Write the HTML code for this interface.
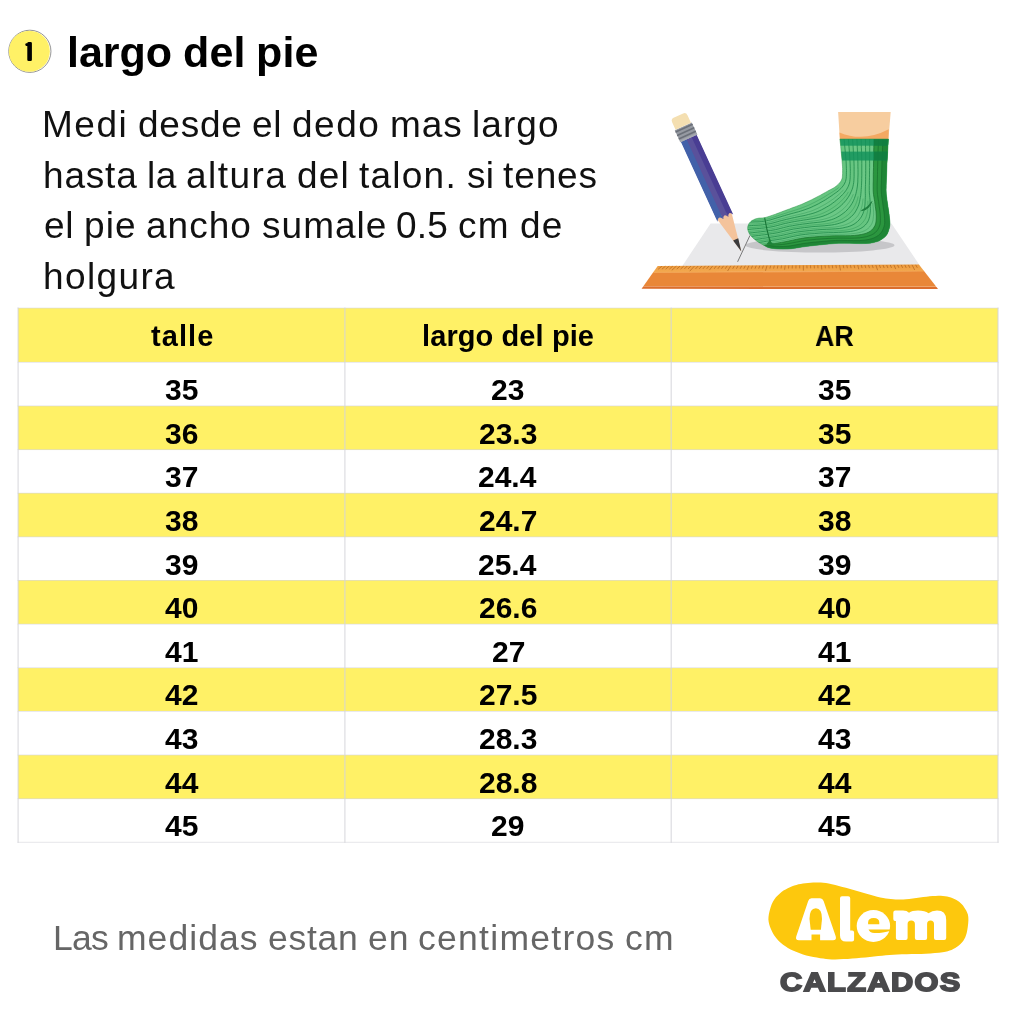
<!DOCTYPE html>
<html lang="es"><head><meta charset="utf-8"><title>largo del pie</title>
<style>
html,body{margin:0;padding:0;background:#fff;}
body{width:1024px;height:1024px;position:relative;overflow:hidden;font-family:"Liberation Sans",sans-serif;}
.t{position:absolute;white-space:nowrap;margin:0;padding:0;will-change:transform;}
.r{position:absolute;}
svg{position:absolute;overflow:visible;}
</style></head><body>

<svg width="60" height="60" viewBox="0 20 60 60" style="left:0;top:20px;">
<circle cx="29.85" cy="51.3" r="21.1" fill="#fff" stroke="#4a4a4a" stroke-width="0.65" opacity="0.9"/>
<circle cx="29.35" cy="51.3" r="20.5" fill="#fff166"/>
<path d="M27.3 43.3 Q27.3 42 28.6 42 H30.6 Q31.9 42 31.9 43.3 V59.7 Q31.9 61 30.6 61 H28.6 Q27.3 61 27.3 59.7 V45.9 H26.4 Q25.3 45.9 25.3 44.8 V44.3 Q25.3 43.5 26.1 43.2 Z" fill="#000"/>
</svg>

<div class="t" style="left:67.33px;top:25.70px;font-size:43px;line-height:52px;color:#000;font-weight:700;letter-spacing:-0.045px;">largo</div>
<div class="t" style="left:182.65px;top:25.70px;font-size:43px;line-height:52px;color:#000;font-weight:700;letter-spacing:0.185px;">del</div>
<div class="t" style="left:256.39px;top:25.70px;font-size:43px;line-height:52px;color:#000;font-weight:700;letter-spacing:0.185px;">pie</div>
<div class="t" style="left:42.27px;top:103.28px;font-size:37px;line-height:44px;color:#111;letter-spacing:1.499px;">Medi</div>
<div class="t" style="left:137.96px;top:103.28px;font-size:37px;line-height:44px;color:#111;letter-spacing:0.741px;">desde</div>
<div class="t" style="left:252.09px;top:103.28px;font-size:37px;line-height:44px;color:#111;letter-spacing:0.659px;">el</div>
<div class="t" style="left:291.82px;top:103.28px;font-size:37px;line-height:44px;color:#111;letter-spacing:1.535px;">dedo</div>
<div class="t" style="left:390.13px;top:103.28px;font-size:37px;line-height:44px;color:#111;letter-spacing:0.915px;">mas</div>
<div class="t" style="left:472.35px;top:103.28px;font-size:37px;line-height:44px;color:#111;letter-spacing:1.077px;">largo</div>
<div class="t" style="left:42.75px;top:153.68px;font-size:37px;line-height:44px;color:#111;letter-spacing:0.813px;">hasta</div>
<div class="t" style="left:147.01px;top:153.68px;font-size:37px;line-height:44px;color:#111;letter-spacing:0.569px;">la</div>
<div class="t" style="left:186.00px;top:153.68px;font-size:37px;line-height:44px;color:#111;letter-spacing:1.472px;">altura</div>
<div class="t" style="left:297.34px;top:153.68px;font-size:37px;line-height:44px;color:#111;letter-spacing:1.138px;">del</div>
<div class="t" style="left:359.30px;top:153.68px;font-size:37px;line-height:44px;color:#111;letter-spacing:1.231px;">talon.</div>
<div class="t" style="left:467.43px;top:153.68px;font-size:37px;line-height:44px;color:#111;letter-spacing:0.144px;">si</div>
<div class="t" style="left:503.43px;top:153.68px;font-size:37px;line-height:44px;color:#111;letter-spacing:0.885px;">tenes</div>
<div class="t" style="left:43.75px;top:204.38px;font-size:37px;line-height:44px;color:#111;letter-spacing:0.659px;">el</div>
<div class="t" style="left:83.80px;top:204.38px;font-size:37px;line-height:44px;color:#111;letter-spacing:1.138px;">pie</div>
<div class="t" style="left:145.53px;top:204.38px;font-size:37px;line-height:44px;color:#111;letter-spacing:1.030px;">ancho</div>
<div class="t" style="left:261.62px;top:204.38px;font-size:37px;line-height:44px;color:#111;letter-spacing:1.033px;">sumale</div>
<div class="t" style="left:396.40px;top:204.38px;font-size:37px;line-height:44px;color:#111;letter-spacing:0.241px;">0.5</div>
<div class="t" style="left:458.30px;top:204.38px;font-size:37px;line-height:44px;color:#111;letter-spacing:1.355px;">cm</div>
<div class="t" style="left:519.94px;top:204.38px;font-size:37px;line-height:44px;color:#111;letter-spacing:1.138px;">de</div>
<div class="t" style="left:42.75px;top:255.08px;font-size:37px;line-height:44px;color:#111;letter-spacing:1.378px;">holgura</div>
<div class="r" style="left:18.1px;top:308.1px;width:979.9px;height:54.19999999999999px;background:#fff166;"></div>
<div class="r" style="left:18.1px;top:405.94px;width:979.9px;height:43.64px;background:#fff166;"></div>
<div class="r" style="left:18.1px;top:493.21px;width:979.9px;height:43.64px;background:#fff166;"></div>
<div class="r" style="left:18.1px;top:580.48px;width:979.9px;height:43.64px;background:#fff166;"></div>
<div class="r" style="left:18.1px;top:667.75px;width:979.9px;height:43.64px;background:#fff166;"></div>
<div class="r" style="left:18.1px;top:755.03px;width:979.9px;height:43.64px;background:#fff166;"></div>
<svg width="1024" height="1024" viewBox="0 0 1024 1024" style="left:0;top:0;">
<rect x="17.5" y="307.60" width="981.1" height="1" fill="#d6d6dc" opacity="0.6"/>
<rect x="17.5" y="361.80" width="981.1" height="1" fill="#d6d6dc" opacity="0.6"/>
<rect x="17.5" y="405.44" width="981.1" height="1" fill="#d6d6dc" opacity="0.6"/>
<rect x="17.5" y="449.07" width="981.1" height="1" fill="#d6d6dc" opacity="0.6"/>
<rect x="17.5" y="492.71" width="981.1" height="1" fill="#d6d6dc" opacity="0.6"/>
<rect x="17.5" y="536.35" width="981.1" height="1" fill="#d6d6dc" opacity="0.6"/>
<rect x="17.5" y="579.98" width="981.1" height="1" fill="#d6d6dc" opacity="0.6"/>
<rect x="17.5" y="623.62" width="981.1" height="1" fill="#d6d6dc" opacity="0.6"/>
<rect x="17.5" y="667.25" width="981.1" height="1" fill="#d6d6dc" opacity="0.6"/>
<rect x="17.5" y="710.89" width="981.1" height="1" fill="#d6d6dc" opacity="0.6"/>
<rect x="17.5" y="754.53" width="981.1" height="1" fill="#d6d6dc" opacity="0.6"/>
<rect x="17.5" y="798.16" width="981.1" height="1" fill="#d6d6dc" opacity="0.6"/>
<rect x="17.5" y="841.80" width="981.1" height="1" fill="#d6d6dc" opacity="0.6"/>
<rect x="17.5" y="307.6" width="1.2" height="535.20" fill="#d4d4da" opacity="0.8"/>
<rect x="344.29999999999995" y="307.6" width="1.2" height="535.20" fill="#d4d4da" opacity="0.8"/>
<rect x="670.6" y="307.6" width="1.2" height="535.20" fill="#d4d4da" opacity="0.8"/>
<rect x="997.4" y="307.6" width="1.2" height="535.20" fill="#d4d4da" opacity="0.8"/>
</svg>
<div class="t" style="left:150.65px;top:318.95px;font-size:29px;line-height:35px;color:#000;font-weight:700;letter-spacing:1.076px;">talle</div>
<div class="t" style="left:421.55px;top:318.95px;font-size:29px;line-height:35px;color:#000;font-weight:700;letter-spacing:0.098px;">largo del pie</div>
<div class="t" style="left:815.21px;top:318.95px;font-size:29px;line-height:35px;color:#000;font-weight:700;transform:scaleX(0.9236);transform-origin:0 0;">AR</div>
<div class="t" style="left:164.90px;top:372.01px;font-size:30px;line-height:36px;color:#000;font-weight:700;">35</div>
<div class="t" style="left:491.39px;top:372.01px;font-size:30px;line-height:36px;color:#000;font-weight:700;">23</div>
<div class="t" style="left:818.00px;top:372.01px;font-size:30px;line-height:36px;color:#000;font-weight:700;">35</div>
<div class="t" style="left:165.02px;top:415.64px;font-size:30px;line-height:36px;color:#000;font-weight:700;">36</div>
<div class="t" style="left:478.88px;top:415.64px;font-size:30px;line-height:36px;color:#000;font-weight:700;">23.3</div>
<div class="t" style="left:818.00px;top:415.64px;font-size:30px;line-height:36px;color:#000;font-weight:700;">35</div>
<div class="t" style="left:165.13px;top:459.28px;font-size:30px;line-height:36px;color:#000;font-weight:700;">37</div>
<div class="t" style="left:478.43px;top:459.28px;font-size:30px;line-height:36px;color:#000;font-weight:700;">24.4</div>
<div class="t" style="left:818.24px;top:459.28px;font-size:30px;line-height:36px;color:#000;font-weight:700;">37</div>
<div class="t" style="left:164.94px;top:502.91px;font-size:30px;line-height:36px;color:#000;font-weight:700;">38</div>
<div class="t" style="left:479.00px;top:502.91px;font-size:30px;line-height:36px;color:#000;font-weight:700;">24.7</div>
<div class="t" style="left:818.04px;top:502.91px;font-size:30px;line-height:36px;color:#000;font-weight:700;">38</div>
<div class="t" style="left:165.03px;top:546.55px;font-size:30px;line-height:36px;color:#000;font-weight:700;">39</div>
<div class="t" style="left:478.43px;top:546.55px;font-size:30px;line-height:36px;color:#000;font-weight:700;">25.4</div>
<div class="t" style="left:818.13px;top:546.55px;font-size:30px;line-height:36px;color:#000;font-weight:700;">39</div>
<div class="t" style="left:165.20px;top:590.19px;font-size:30px;line-height:36px;color:#000;font-weight:700;">40</div>
<div class="t" style="left:478.88px;top:590.19px;font-size:30px;line-height:36px;color:#000;font-weight:700;">26.6</div>
<div class="t" style="left:818.29px;top:590.19px;font-size:30px;line-height:36px;color:#000;font-weight:700;">40</div>
<div class="t" style="left:165.00px;top:633.82px;font-size:30px;line-height:36px;color:#000;font-weight:700;">41</div>
<div class="t" style="left:491.51px;top:633.82px;font-size:30px;line-height:36px;color:#000;font-weight:700;">27</div>
<div class="t" style="left:818.10px;top:633.82px;font-size:30px;line-height:36px;color:#000;font-weight:700;">41</div>
<div class="t" style="left:165.18px;top:677.46px;font-size:30px;line-height:36px;color:#000;font-weight:700;">42</div>
<div class="t" style="left:478.76px;top:677.46px;font-size:30px;line-height:36px;color:#000;font-weight:700;">27.5</div>
<div class="t" style="left:818.28px;top:677.46px;font-size:30px;line-height:36px;color:#000;font-weight:700;">42</div>
<div class="t" style="left:165.12px;top:721.10px;font-size:30px;line-height:36px;color:#000;font-weight:700;">43</div>
<div class="t" style="left:478.88px;top:721.10px;font-size:30px;line-height:36px;color:#000;font-weight:700;">28.3</div>
<div class="t" style="left:818.22px;top:721.10px;font-size:30px;line-height:36px;color:#000;font-weight:700;">43</div>
<div class="t" style="left:164.67px;top:764.73px;font-size:30px;line-height:36px;color:#000;font-weight:700;">44</div>
<div class="t" style="left:478.80px;top:764.73px;font-size:30px;line-height:36px;color:#000;font-weight:700;">28.8</div>
<div class="t" style="left:817.77px;top:764.73px;font-size:30px;line-height:36px;color:#000;font-weight:700;">44</div>
<div class="t" style="left:165.00px;top:808.37px;font-size:30px;line-height:36px;color:#000;font-weight:700;">45</div>
<div class="t" style="left:491.40px;top:808.37px;font-size:30px;line-height:36px;color:#000;font-weight:700;">29</div>
<div class="t" style="left:818.10px;top:808.37px;font-size:30px;line-height:36px;color:#000;font-weight:700;">45</div>
<div class="t" style="left:53.29px;top:916.50px;font-size:35.5px;line-height:43px;color:#666;letter-spacing:-0.794px;">Las</div>
<div class="t" style="left:117.46px;top:916.50px;font-size:35.5px;line-height:43px;color:#666;letter-spacing:1.046px;">medidas</div>
<div class="t" style="left:267.91px;top:916.50px;font-size:35.5px;line-height:43px;color:#666;letter-spacing:0.738px;">estan</div>
<div class="t" style="left:367.63px;top:916.50px;font-size:35.5px;line-height:43px;color:#666;letter-spacing:1.021px;">en</div>
<div class="t" style="left:418.34px;top:916.50px;font-size:35.5px;line-height:43px;color:#666;letter-spacing:1.285px;">centimetros</div>
<div class="t" style="left:625.14px;top:916.50px;font-size:35.5px;line-height:43px;color:#666;letter-spacing:1.194px;">cm</div>
<svg width="1024" height="1024" viewBox="0 0 1024 1024" style="left:0;top:0;">
<polygon points="710.6,223.5 891.5,223.5 919.6,265.2 682.0,266.4" fill="#e9e9eb"/>
<ellipse cx="820" cy="245.3" rx="74.5" ry="7.3" fill="#c6c6c9"/>
<line x1="750" y1="235.4" x2="737.6" y2="261.8" stroke="#4a4a4a" stroke-width="0.7"/>
<defs><linearGradient id="rg" x1="0" y1="0" x2="0" y2="1"><stop offset="0" stop-color="#ec9a3c"/><stop offset="1" stop-color="#f3aa52"/></linearGradient></defs>
<polygon points="657.7,265.9 918.9,264.5 924.0,271.0 653.2,272.3" fill="url(#rg)"/>
<polygon points="653.2,272.3 924.0,271.0 936.3,286.8 643.2,286.6" fill="#e98738"/>
<polygon points="643.2,286.6 936.3,286.8 938.0,289.0 641.6,288.8" fill="#dc6e2d"/>
<polygon points="653.4,272.0 923.7,270.7 924.4,271.6 652.8,272.90000000000003" fill="#f3a656"/>
<path d="M661.9 266.2L658.2 269.2M665.5 266.2L661.9 269.2M669.2 266.1L665.7 269.1M672.8 266.1L669.4 269.1M676.4 266.1L671.8 270.3M680.0 266.1L676.8 269.1M683.7 266.1L680.6 269.1M687.3 266.0L684.3 269.0M690.9 266.0L688.0 269.0M694.5 266.0L689.7 271.2M698.2 266.0L695.4 269.0M701.8 266.0L699.2 269.0M705.4 265.9L702.9 268.9M709.0 265.9L706.6 268.9M712.7 265.9L709.4 270.1M716.3 265.9L714.1 268.9M719.9 265.9L717.8 268.9M723.5 265.8L721.5 268.8M727.2 265.8L725.2 268.8M730.8 265.8L727.6 271.0M734.4 265.8L732.7 268.8M738.0 265.8L736.4 268.8M741.7 265.8L740.1 268.8M745.3 265.7L743.8 268.7M748.9 265.7L747.0 269.9M752.5 265.7L751.3 268.7M756.2 265.7L755.0 268.7M759.8 265.7L758.7 268.7M763.4 265.6L762.4 268.6M767.0 265.6L765.5 270.8M770.7 265.6L769.9 268.6M774.3 265.6L773.6 268.6M777.9 265.6L777.3 268.6M781.5 265.5L781.1 268.5M785.2 265.5L784.6 269.7M788.8 265.5L788.5 268.5M792.4 265.5L792.2 268.5M796.0 265.5L795.9 268.5M799.7 265.4L799.7 268.4M803.3 265.4L803.4 270.6M806.9 265.4L807.0 268.4M810.5 265.4L810.7 268.4M814.2 265.4L814.4 268.4M817.8 265.3L818.0 268.3M821.4 265.3L821.8 269.5M825.0 265.3L825.4 268.3M828.7 265.3L829.1 268.3M832.3 265.3L832.7 268.3M835.9 265.2L836.4 268.2M839.5 265.2L840.5 270.4M843.2 265.2L843.8 268.2M846.8 265.2L847.4 268.2M850.4 265.2L851.1 268.2M854.0 265.2L854.8 268.2M857.7 265.1L858.8 269.3M861.3 265.1L862.1 268.1M864.9 265.1L865.8 268.1M868.5 265.1L869.5 268.1M872.2 265.1L873.2 268.1M875.8 265.0L877.6 270.2M879.4 265.0L880.5 268.0M883.0 265.0L884.2 268.0M886.7 265.0L887.9 268.0M890.3 265.0L891.5 268.0M893.9 264.9L895.7 269.1M897.5 264.9L898.9 267.9M901.2 264.9L902.6 267.9M904.8 264.9L906.2 267.9M908.4 264.9L909.9 267.9M912.0 264.8L914.7 270.0M915.7 264.8L917.3 267.8" stroke="#a85a18" stroke-width="0.7" fill="none" opacity="0.85"/>
<polygon points="838.1,111.9 890.7,111.9 888.4,139.5 839.9,139.5" fill="#f7cd9f"/>
<path d="M839.5 132.4 Q863.4 142.6 888.75 129.3 L888.4 139.5 L839.9 139.5 Z" fill="#f4a962"/>
<clipPath id="sk"><path d="M839.9 139.0 L840.3 142.6 L840.7 146.3 L841.0 150.1 L841.4 153.7 L841.7 157.0 L842.0 160.0 L842.2 162.6 L842.4 164.8 L842.5 166.8 L842.6 168.6 L842.6 170.3 L842.6 172.0 L842.6 173.6 L842.5 175.0 L842.4 176.4 L842.3 177.6 L842.0 178.8 L841.5 180.0 L840.9 181.2 L840.1 182.3 L839.2 183.3 L838.2 184.4 L837.1 185.4 L836.0 186.3 L834.8 187.2 L833.5 188.0 L832.1 188.8 L830.7 189.5 L829.1 190.3 L827.5 191.2 L825.8 192.2 L823.9 193.2 L822.0 194.3 L820.1 195.4 L818.0 196.4 L816.0 197.5 L813.9 198.6 L811.7 199.7 L809.4 200.8 L807.2 201.8 L805.0 202.8 L803.0 203.7 L801.2 204.5 L799.4 205.2 L797.8 205.8 L796.2 206.4 L794.6 207.0 L793.0 207.6 L791.3 208.2 L789.6 208.9 L787.9 209.5 L786.3 210.1 L784.6 210.7 L783.0 211.3 L781.4 211.9 L779.9 212.5 L778.4 213.1 L777.0 213.6 L775.5 214.2 L774.0 214.7 L772.5 215.2 L770.9 215.8 L769.4 216.3 L767.9 216.8 L766.4 217.2 L765.0 217.6 L763.7 217.8 L762.5 217.9 L761.3 218.0 L760.1 218.1 L759.1 218.1 L758.0 218.3 L757.0 218.5 L756.0 218.8 L755.0 219.1 L754.1 219.5 L753.3 219.9 L752.5 220.3 L751.7 220.8 L751.0 221.4 L750.4 222.0 L749.8 222.6 L749.2 223.3 L748.8 224.0 L748.4 224.7 L748.2 225.4 L747.9 226.2 L747.8 227.0 L747.7 227.7 L747.7 228.5 L747.8 229.3 L747.9 230.0 L748.1 230.8 L748.4 231.5 L748.7 232.3 L749.0 233.0 L749.4 233.7 L749.8 234.4 L750.3 235.0 L750.8 235.7 L751.4 236.3 L752.0 237.0 L752.7 237.7 L753.5 238.4 L754.3 239.1 L755.2 239.8 L756.1 240.5 L757.0 241.2 L757.9 241.8 L758.9 242.5 L759.8 243.0 L760.8 243.6 L761.9 244.2 L763.0 244.8 L764.1 245.4 L765.2 246.0 L766.3 246.7 L767.6 247.3 L769.1 247.8 L771.0 248.2 L773.3 248.5 L775.8 248.8 L778.6 249.0 L781.6 249.1 L784.8 249.1 L788.0 249.0 L791.3 248.7 L794.7 248.3 L798.2 247.7 L802.0 247.1 L805.9 246.5 L810.0 246.0 L814.4 245.5 L819.1 245.0 L823.9 244.5 L828.9 244.0 L834.0 243.6 L839.0 243.3 L844.2 243.2 L849.8 243.3 L855.4 243.5 L860.8 243.6 L865.8 243.5 L870.0 243.2 L873.5 242.6 L876.4 241.8 L878.9 240.9 L881.0 239.8 L882.8 238.6 L884.5 237.3 L886.0 235.8 L887.1 234.2 L888.0 232.5 L888.6 230.6 L889.2 228.8 L889.6 227.0 L889.9 225.2 L890.0 223.4 L889.9 221.6 L889.7 219.8 L889.5 217.9 L889.3 216.0 L889.1 214.1 L888.8 212.1 L888.5 210.1 L888.2 208.0 L887.9 206.0 L887.6 204.0 L887.3 202.0 L887.0 200.1 L886.8 198.1 L886.5 196.1 L886.3 194.1 L886.2 192.0 L886.1 189.8 L886.2 187.6 L886.2 185.4 L886.3 183.0 L886.4 180.6 L886.5 178.0 L886.6 175.3 L886.7 172.4 L886.8 169.4 L886.9 166.4 L887.0 163.2 L887.2 160.0 L887.4 156.7 L887.6 153.2 L887.8 149.7 L888.0 146.1 L888.2 142.5 L888.4 139.0 Z"/></clipPath>
<g clip-path="url(#sk)">
<rect x="730" y="130" width="170" height="130" fill="#6cc886"/>
<path d="M839.9 139.0 L840.3 143.3 L840.8 147.8 L841.3 152.2 L841.7 156.4 L842.0 160.0 L842.2 163.0 L842.4 165.6 L842.6 167.9 L842.6 170.0 L842.6 172.0 L842.6 173.9 L842.5 175.6 L842.3 177.1 L842.0 178.6 L841.5 180.0 L840.7 181.4 L839.8 182.7 L838.6 184.0 L837.4 185.2 L836.0 186.3 L834.5 187.3 L833.0 188.3 L831.3 189.2 L829.4 190.2 L827.5 191.2 L825.4 192.4 L823.2 193.6 L820.9 194.9 L818.4 196.2 L816.0 197.5 L813.4 198.8 L810.8 200.1 L808.1 201.4 L805.4 202.6 L803.0 203.7 L800.8 204.6 L798.8 205.4 L796.9 206.2 L795.0 206.9 L793.0 207.6 L791.0 208.4 L789.0 209.1 L786.9 209.9 L784.9 210.6 L783.0 211.3 L781.1 212.0 L779.3 212.7 L777.5 213.4 L775.7 214.1 L774.0 214.7 L772.3 215.3 L770.7 215.9 L769.2 216.5 L767.6 217.0 L766.0 217.4 L764.4 217.7 L762.9 218.0 L761.3 218.2 L759.7 218.4 L758.0 218.5 L756.1 218.6 L754.1 218.6 L752.1 218.5 L750.0 218.5 L748.0 218.5 L746.0 218.6 L744.0 218.7 L742.0 218.8 L740.0 218.9 L738.0 219.0 L738.2 223.0 L740.3 222.8 L742.3 222.6 L744.4 222.4 L746.4 222.3 L748.5 222.1 L750.6 222.0 L752.8 222.0 L755.0 221.9 L757.2 221.9 L759.2 221.8 L761.2 221.6 L763.0 221.4 L764.8 221.1 L766.6 220.8 L768.4 220.4 L770.2 220.0 L772.1 219.4 L774.0 218.8 L775.9 218.2 L777.9 217.6 L780.0 217.0 L782.1 216.3 L784.3 215.7 L786.5 215.0 L788.8 214.4 L791.1 213.7 L793.6 213.1 L796.0 212.4 L798.4 211.8 L800.7 211.1 L802.9 210.4 L804.9 209.7 L806.9 209.0 L809.0 208.2 L811.2 207.3 L813.5 206.2 L816.0 205.0 L818.6 203.7 L821.0 202.3 L823.4 201.0 L825.6 199.7 L827.7 198.3 L829.8 196.9 L831.8 195.6 L833.6 194.3 L835.3 193.1 L836.9 192.0 L838.3 190.9 L839.6 189.7 L840.9 188.5 L842.0 187.2 L843.1 185.9 L844.0 184.5 L844.8 183.0 L845.5 181.5 L845.9 179.9 L846.2 178.3 L846.3 176.6 L846.4 174.8 L846.4 172.8 L846.5 170.6 L846.4 168.3 L846.3 165.9 L846.2 163.1 L846.0 160.0 L845.7 156.3 L845.3 152.2 L844.9 147.8 L844.5 143.3 L844.1 139.0 Z" fill="#4fb56c" opacity="0.18"/>
<path d="M848.4 139.0 L848.7 143.3 L849.1 147.8 L849.4 152.1 L849.7 156.3 L849.9 160.0 L850.1 163.2 L850.2 166.1 L850.3 168.7 L850.3 171.2 L850.3 173.5 L850.2 175.7 L850.2 177.7 L850.0 179.5 L849.8 181.3 L849.5 183.0 L848.9 184.7 L848.3 186.3 L847.5 187.8 L846.7 189.3 L845.8 190.7 L844.7 192.1 L843.6 193.5 L842.4 194.7 L841.1 196.1 L839.7 197.4 L838.1 198.8 L836.4 200.2 L834.6 201.7 L832.7 203.1 L830.8 204.5 L828.6 205.9 L826.3 207.2 L824.0 208.5 L821.6 209.8 L819.4 210.8 L817.2 211.8 L815.1 212.6 L813.0 213.3 L810.8 213.9 L808.4 214.5 L805.8 215.2 L803.0 215.8 L800.2 216.3 L797.3 216.9 L794.6 217.5 L791.9 218.1 L789.3 218.7 L786.7 219.3 L784.2 219.9 L781.8 220.5 L779.4 221.1 L777.2 221.8 L775.0 222.4 L772.9 223.0 L770.8 223.5 L768.7 223.9 L766.7 224.2 L764.7 224.5 L762.6 224.8 L760.5 225.0 L758.3 225.2 L755.9 225.3 L753.6 225.4 L751.3 225.6 L749.0 225.8 L746.8 226.0 L744.7 226.2 L742.7 226.5 L740.6 226.7 L738.5 227.0 L738.8 231.0 L740.9 230.7 L743.0 230.3 L745.1 230.0 L747.3 229.7 L749.5 229.4 L751.9 229.1 L754.3 228.9 L756.8 228.7 L759.3 228.5 L761.8 228.2 L764.1 228.0 L766.3 227.7 L768.5 227.4 L770.8 227.0 L773.1 226.6 L775.5 226.0 L777.9 225.4 L780.4 224.7 L783.0 224.0 L785.6 223.4 L788.4 222.8 L791.3 222.2 L794.3 221.6 L797.3 221.1 L800.4 220.6 L803.5 220.1 L806.8 219.6 L810.1 219.1 L813.2 218.6 L816.1 218.0 L818.7 217.4 L821.0 216.8 L823.2 216.1 L825.4 215.3 L827.5 214.4 L829.7 213.3 L832.0 212.1 L834.1 210.8 L836.2 209.4 L838.1 208.0 L839.9 206.6 L841.5 205.1 L843.1 203.6 L844.5 202.0 L845.8 200.5 L847.0 199.0 L848.0 197.5 L849.0 196.0 L849.8 194.5 L850.6 192.9 L851.3 191.3 L852.0 189.7 L852.6 188.0 L853.0 186.3 L853.4 184.5 L853.7 182.6 L853.9 180.7 L854.0 178.7 L854.1 176.6 L854.1 174.2 L854.1 171.8 L854.1 169.2 L854.1 166.4 L854.0 163.3 L853.9 160.0 L853.7 156.2 L853.4 152.1 L853.2 147.7 L852.9 143.3 L852.6 139.0 Z" fill="#4fb56c" opacity="0.18"/>
<path d="M856.9 139.0 L857.1 143.3 L857.3 147.7 L857.5 152.0 L857.7 156.2 L857.8 160.0 L857.9 163.4 L857.9 166.6 L858.0 169.6 L858.0 172.4 L858.0 175.0 L857.9 177.5 L857.8 179.8 L857.8 181.9 L857.6 184.0 L857.4 186.0 L857.1 188.0 L856.8 189.8 L856.4 191.6 L856.0 193.4 L855.5 195.2 L854.9 196.9 L854.3 198.6 L853.6 200.3 L852.8 202.0 L851.9 203.6 L850.9 205.2 L849.7 206.9 L848.4 208.5 L847.0 210.0 L845.5 211.5 L843.8 212.9 L841.9 214.3 L839.9 215.7 L837.8 216.9 L835.7 218.0 L833.6 218.9 L831.4 219.7 L829.1 220.3 L826.6 220.9 L823.9 221.5 L820.7 222.0 L817.1 222.4 L813.4 222.8 L809.7 223.2 L806.1 223.7 L802.7 224.1 L799.3 224.6 L795.9 225.1 L792.6 225.7 L789.5 226.2 L786.5 226.9 L783.6 227.6 L780.9 228.3 L778.2 229.0 L775.5 229.6 L772.9 230.1 L770.4 230.5 L768.0 230.8 L765.5 231.2 L763.0 231.5 L760.4 231.8 L757.7 232.1 L755.1 232.4 L752.5 232.7 L750.0 233.0 L747.7 233.4 L745.5 233.8 L743.3 234.2 L741.2 234.6 L739.0 235.0 L739.2 239.0 L741.5 238.5 L743.6 238.0 L745.8 237.5 L748.1 237.1 L750.5 236.6 L753.1 236.2 L755.8 235.8 L758.6 235.5 L761.5 235.1 L764.2 234.8 L767.0 234.4 L769.6 234.0 L772.3 233.6 L775.0 233.2 L777.9 232.7 L780.8 232.0 L783.8 231.3 L786.9 230.5 L790.0 229.8 L793.4 229.1 L796.9 228.6 L800.5 228.1 L804.3 227.6 L808.1 227.2 L811.9 226.7 L815.9 226.4 L820.1 226.1 L824.2 225.8 L828.1 225.4 L831.6 225.0 L834.5 224.5 L837.2 223.9 L839.5 223.2 L841.7 222.5 L843.9 221.6 L845.9 220.5 L847.9 219.3 L849.7 217.9 L851.4 216.5 L852.9 215.0 L854.2 213.5 L855.3 211.9 L856.3 210.2 L857.2 208.5 L858.0 206.7 L858.7 204.9 L859.2 203.1 L859.7 201.2 L860.0 199.3 L860.4 197.4 L860.7 195.5 L860.9 193.5 L861.1 191.6 L861.2 189.6 L861.4 187.5 L861.5 185.3 L861.6 183.1 L861.7 180.8 L861.7 178.4 L861.8 175.8 L861.8 172.9 L861.8 170.0 L861.8 166.9 L861.8 163.6 L861.8 160.0 L861.7 156.1 L861.6 152.0 L861.4 147.7 L861.3 143.3 L861.1 139.0 Z" fill="#4fb56c" opacity="0.18"/>
<path d="M865.4 139.0 L865.5 143.3 L865.5 147.6 L865.6 151.9 L865.7 156.1 L865.7 160.0 L865.7 163.7 L865.7 167.1 L865.7 170.4 L865.7 173.5 L865.6 176.5 L865.6 179.3 L865.5 181.9 L865.5 184.3 L865.4 186.7 L865.3 189.0 L865.3 191.2 L865.3 193.4 L865.4 195.5 L865.3 197.5 L865.2 199.6 L865.1 201.7 L865.0 203.8 L864.8 205.8 L864.5 207.9 L864.1 209.8 L863.6 211.7 L863.0 213.5 L862.2 215.2 L861.3 216.9 L860.2 218.5 L859.0 220.0 L857.5 221.5 L855.9 222.8 L854.1 224.1 L852.0 225.2 L849.9 226.1 L847.7 226.8 L845.2 227.4 L842.5 228.0 L839.3 228.5 L835.5 228.8 L831.2 229.1 L826.7 229.3 L822.1 229.5 L817.7 229.8 L813.5 230.2 L809.3 230.6 L805.1 231.0 L801.1 231.5 L797.2 232.0 L793.6 232.7 L790.1 233.5 L786.7 234.3 L783.5 235.0 L780.2 235.7 L777.2 236.2 L774.2 236.7 L771.3 237.1 L768.4 237.6 L765.5 238.0 L762.5 238.4 L759.5 238.9 L756.6 239.3 L753.7 239.8 L751.0 240.2 L748.5 240.8 L746.2 241.3 L744.0 241.9 L741.8 242.4 L739.5 243.0 L739.8 247.0 L742.0 246.4 L744.3 245.7 L746.5 245.1 L748.9 244.5 L751.5 243.9 L754.3 243.3 L757.3 242.8 L760.4 242.3 L763.6 241.8 L766.8 241.2 L769.8 240.8 L772.9 240.3 L776.1 239.8 L779.3 239.3 L782.6 238.8 L786.1 238.0 L789.6 237.2 L793.3 236.4 L797.1 235.6 L801.1 234.9 L805.3 234.4 L809.7 233.9 L814.3 233.6 L818.9 233.2 L823.5 232.9 L828.3 232.7 L833.3 232.6 L838.3 232.4 L842.9 232.2 L847.0 231.9 L850.4 231.5 L853.3 231.0 L855.8 230.4 L858.1 229.6 L860.2 228.7 L862.2 227.6 L863.8 226.4 L865.3 225.0 L866.5 223.6 L867.6 222.0 L868.5 220.4 L869.1 218.6 L869.6 216.8 L869.9 214.9 L870.2 212.9 L870.4 210.8 L870.4 208.6 L870.3 206.3 L870.2 204.1 L870.1 201.8 L870.0 199.6 L869.8 197.4 L869.6 195.2 L869.4 192.9 L869.3 190.5 L869.3 188.0 L869.3 185.5 L869.4 182.9 L869.4 180.2 L869.5 177.2 L869.5 174.1 L869.5 170.8 L869.6 167.4 L869.6 163.8 L869.6 160.0 L869.7 156.0 L869.7 151.9 L869.7 147.6 L869.7 143.3 L869.6 139.0 Z" fill="#4fb56c" opacity="0.18"/>
<path d="M873.9 139.0 L873.8 143.2 L873.8 147.5 L873.7 151.8 L873.7 156.0 L873.6 160.0 L873.5 163.9 L873.5 167.6 L873.4 171.2 L873.3 174.7 L873.3 178.0 L873.3 181.1 L873.2 184.0 L873.2 186.7 L873.2 189.4 L873.3 192.0 L873.5 194.5 L873.9 196.9 L874.3 199.3 L874.7 201.6 L875.0 204.0 L875.3 206.4 L875.7 208.9 L876.0 211.4 L876.2 213.8 L876.3 216.0 L876.3 218.1 L876.2 220.1 L876.0 222.0 L875.6 223.8 L875.0 225.5 L874.1 227.1 L873.1 228.6 L871.8 230.0 L870.3 231.2 L868.4 232.3 L866.3 233.2 L864.0 233.9 L861.4 234.5 L858.3 235.0 L854.7 235.4 L850.4 235.7 L845.3 235.8 L839.9 235.8 L834.5 235.8 L829.3 236.0 L824.3 236.2 L819.3 236.5 L814.4 236.9 L809.6 237.3 L805.0 237.8 L800.7 238.5 L796.5 239.3 L792.6 240.2 L788.7 241.0 L785.0 241.8 L781.4 242.4 L777.9 243.0 L774.6 243.5 L771.3 244.0 L768.0 244.5 L764.7 245.1 L761.3 245.7 L758.1 246.2 L754.9 246.9 L752.0 247.5 L749.3 248.2 L746.9 248.9 L744.6 249.6 L742.3 250.3 L740.0 251.0 L740.0 254.9 L743.2 253.9 L746.4 252.8 L749.5 251.7 L752.7 250.8 L755.9 250.1 L759.1 249.6 L762.2 249.4 L765.4 249.2 L768.6 249.2 L771.9 249.3 L775.1 249.6 L778.4 250.1 L781.6 250.6 L785.1 251.0 L788.9 251.2 L792.9 250.9 L797.2 250.4 L801.6 249.8 L806.4 249.1 L811.5 248.5 L817.0 247.8 L823.0 247.1 L829.2 246.5 L835.6 245.9 L841.9 245.5 L848.6 245.4 L855.7 245.6 L862.7 245.9 L869.2 245.9 L874.6 245.5 L878.8 244.7 L882.3 243.6 L885.0 242.2 L887.3 240.6 L889.3 238.8 L891.0 236.8 L892.2 234.6 L893.0 232.2 L893.6 229.8 L894.0 227.5 L894.2 225.2 L894.1 222.9 L893.8 220.6 L893.5 218.3 L893.2 216.0 L892.9 213.6 L892.5 211.2 L892.1 208.8 L891.7 206.4 L891.4 204.0 L891.1 201.6 L890.7 199.3 L890.4 196.9 L890.2 194.5 L890.1 192.0 L890.0 189.4 L890.1 186.7 L890.2 184.0 L890.3 181.1 L890.5 178.0 L890.6 174.7 L890.7 171.2 L890.9 167.6 L891.1 163.9 L891.3 160.0 L891.5 156.0 L891.8 151.8 L892.1 147.5 L892.4 143.2 L892.8 139.0 Z" fill="#2b963f"/>
<path d="M882.9 139.0 L882.7 143.2 L882.5 147.5 L882.4 151.8 L882.2 156.0 L882.0 160.0 L881.9 163.9 L881.8 167.6 L881.7 171.2 L881.6 174.7 L881.5 178.0 L881.4 181.1 L881.3 184.0 L881.2 186.7 L881.2 189.4 L881.3 192.0 L881.5 194.5 L881.8 196.9 L882.1 199.3 L882.5 201.6 L882.8 204.0 L883.1 206.4 L883.5 208.9 L883.9 211.3 L884.2 213.7 L884.4 216.0 L884.5 218.2 L884.6 220.4 L884.7 222.4 L884.5 224.5 L884.1 226.4 L883.4 228.4 L882.6 230.3 L881.5 232.2 L880.1 233.9 L878.4 235.4 L876.3 236.7 L874.0 237.9 L871.3 238.8 L868.1 239.6 L864.2 240.2 L859.3 240.6 L853.6 240.6 L847.4 240.5 L841.2 240.4 L835.3 240.5 L829.7 240.8 L824.0 241.3 L818.5 241.8 L813.1 242.3 L808.1 242.9 L803.4 243.5 L799.0 244.3 L794.8 245.1 L790.7 245.8 L786.9 246.3 L783.2 246.5 L779.7 246.6 L776.4 246.6 L773.1 246.6 L769.9 246.8 L766.6 247.1 L763.3 247.4 L760.1 247.7 L756.9 248.2 L753.9 248.7 L751.0 249.4 L748.2 250.2 L745.4 251.1 L742.7 252.0 L740.0 252.9 L740.0 254.9 L743.2 253.9 L746.4 252.8 L749.5 251.7 L752.7 250.8 L755.9 250.1 L759.1 249.6 L762.2 249.4 L765.4 249.2 L768.6 249.2 L771.9 249.3 L775.1 249.6 L778.4 250.1 L781.6 250.6 L785.1 251.0 L788.9 251.2 L792.9 250.9 L797.2 250.4 L801.6 249.8 L806.4 249.1 L811.5 248.5 L817.0 247.8 L823.0 247.1 L829.2 246.5 L835.6 245.9 L841.9 245.5 L848.6 245.4 L855.7 245.6 L862.7 245.9 L869.2 245.9 L874.6 245.5 L878.8 244.7 L882.3 243.6 L885.0 242.2 L887.3 240.6 L889.3 238.8 L891.0 236.8 L892.2 234.6 L893.0 232.2 L893.6 229.8 L894.0 227.5 L894.2 225.2 L894.1 222.9 L893.8 220.6 L893.5 218.3 L893.2 216.0 L892.9 213.6 L892.5 211.2 L892.1 208.8 L891.7 206.4 L891.4 204.0 L891.1 201.6 L890.7 199.3 L890.4 196.9 L890.2 194.5 L890.1 192.0 L890.0 189.4 L890.1 186.7 L890.2 184.0 L890.3 181.1 L890.5 178.0 L890.6 174.7 L890.7 171.2 L890.9 167.6 L891.1 163.9 L891.3 160.0 L891.5 156.0 L891.8 151.8 L892.1 147.5 L892.4 143.2 L892.8 139.0 Z" fill="#1f8636"/>
<path d="M844.1 139.0 L844.5 143.3 L844.9 147.8 L845.3 152.2 L845.7 156.3 L846.0 160.0 L846.2 163.1 L846.3 165.9 L846.4 168.3 L846.5 170.6 L846.4 172.8 L846.4 174.8 L846.3 176.6 L846.2 178.3 L845.9 179.9 L845.5 181.5 L844.8 183.0 L844.0 184.5 L843.1 185.9 L842.0 187.2 L840.9 188.5 L839.6 189.7 L838.3 190.9 L836.9 192.0 L835.3 193.1 L833.6 194.3 L831.8 195.6 L829.8 196.9 L827.7 198.3 L825.6 199.7 L823.4 201.0 L821.0 202.3 L818.6 203.7 L816.0 205.0 L813.5 206.2 L811.2 207.3 L809.0 208.2 L806.9 209.0 L804.9 209.7 L802.9 210.4 L800.7 211.1 L798.4 211.8 L796.0 212.4 L793.6 213.1 L791.1 213.7 L788.8 214.4 L786.5 215.0 L784.3 215.7 L782.1 216.3 L780.0 217.0 L777.9 217.6 L775.9 218.2 L774.0 218.8 L772.1 219.4 L770.2 220.0 L768.4 220.4 L766.6 220.8 L764.8 221.1 L763.0 221.4 L761.2 221.6 L759.2 221.8 L757.2 221.9 L755.0 221.9 L752.8 222.0 L750.6 222.0 L748.5 222.1 L746.4 222.3 L744.4 222.4 L742.3 222.6 L740.3 222.8 L738.2 223.0" fill="none" stroke="#1f894a" stroke-width="0.85" opacity="0.95"/>
<path d="M848.4 139.0 L848.7 143.3 L849.1 147.8 L849.4 152.1 L849.7 156.3 L849.9 160.0 L850.1 163.2 L850.2 166.1 L850.3 168.7 L850.3 171.2 L850.3 173.5 L850.2 175.7 L850.2 177.7 L850.0 179.5 L849.8 181.3 L849.5 183.0 L848.9 184.7 L848.3 186.3 L847.5 187.8 L846.7 189.3 L845.8 190.7 L844.7 192.1 L843.6 193.5 L842.4 194.7 L841.1 196.1 L839.7 197.4 L838.1 198.8 L836.4 200.2 L834.6 201.7 L832.7 203.1 L830.8 204.5 L828.6 205.9 L826.3 207.2 L824.0 208.5 L821.6 209.8 L819.4 210.8 L817.2 211.8 L815.1 212.6 L813.0 213.3 L810.8 213.9 L808.4 214.5 L805.8 215.2 L803.0 215.8 L800.2 216.3 L797.3 216.9 L794.6 217.5 L791.9 218.1 L789.3 218.7 L786.7 219.3 L784.2 219.9 L781.8 220.5 L779.4 221.1 L777.2 221.8 L775.0 222.4 L772.9 223.0 L770.8 223.5 L768.7 223.9 L766.7 224.2 L764.7 224.5 L762.6 224.8 L760.5 225.0 L758.3 225.2 L755.9 225.3 L753.6 225.4 L751.3 225.6 L749.0 225.8 L746.8 226.0 L744.7 226.2 L742.7 226.5 L740.6 226.7 L738.5 227.0" fill="none" stroke="#1f894a" stroke-width="0.85" opacity="0.95"/>
<path d="M852.6 139.0 L852.9 143.3 L853.2 147.7 L853.4 152.1 L853.7 156.2 L853.9 160.0 L854.0 163.3 L854.1 166.4 L854.1 169.2 L854.1 171.8 L854.1 174.2 L854.1 176.6 L854.0 178.7 L853.9 180.7 L853.7 182.6 L853.4 184.5 L853.0 186.3 L852.6 188.0 L852.0 189.7 L851.3 191.3 L850.6 192.9 L849.8 194.5 L849.0 196.0 L848.0 197.5 L847.0 199.0 L845.8 200.5 L844.5 202.0 L843.1 203.6 L841.5 205.1 L839.9 206.6 L838.1 208.0 L836.2 209.4 L834.1 210.8 L832.0 212.1 L829.7 213.3 L827.5 214.4 L825.4 215.3 L823.2 216.1 L821.0 216.8 L818.7 217.4 L816.1 218.0 L813.2 218.6 L810.1 219.1 L806.8 219.6 L803.5 220.1 L800.4 220.6 L797.3 221.1 L794.3 221.6 L791.3 222.2 L788.4 222.8 L785.6 223.4 L783.0 224.0 L780.4 224.7 L777.9 225.4 L775.5 226.0 L773.1 226.6 L770.8 227.0 L768.5 227.4 L766.3 227.7 L764.1 228.0 L761.8 228.2 L759.3 228.5 L756.8 228.7 L754.3 228.9 L751.9 229.1 L749.5 229.4 L747.3 229.7 L745.1 230.0 L743.0 230.3 L740.9 230.7 L738.8 231.0" fill="none" stroke="#1f894a" stroke-width="0.85" opacity="0.95"/>
<path d="M856.9 139.0 L857.1 143.3 L857.3 147.7 L857.5 152.0 L857.7 156.2 L857.8 160.0 L857.9 163.4 L857.9 166.6 L858.0 169.6 L858.0 172.4 L858.0 175.0 L857.9 177.5 L857.8 179.8 L857.8 181.9 L857.6 184.0 L857.4 186.0 L857.1 188.0 L856.8 189.8 L856.4 191.6 L856.0 193.4 L855.5 195.2 L854.9 196.9 L854.3 198.6 L853.6 200.3 L852.8 202.0 L851.9 203.6 L850.9 205.2 L849.7 206.9 L848.4 208.5 L847.0 210.0 L845.5 211.5 L843.8 212.9 L841.9 214.3 L839.9 215.7 L837.8 216.9 L835.7 218.0 L833.6 218.9 L831.4 219.7 L829.1 220.3 L826.6 220.9 L823.9 221.5 L820.7 222.0 L817.1 222.4 L813.4 222.8 L809.7 223.2 L806.1 223.7 L802.7 224.1 L799.3 224.6 L795.9 225.1 L792.6 225.7 L789.5 226.2 L786.5 226.9 L783.6 227.6 L780.9 228.3 L778.2 229.0 L775.5 229.6 L772.9 230.1 L770.4 230.5 L768.0 230.8 L765.5 231.2 L763.0 231.5 L760.4 231.8 L757.7 232.1 L755.1 232.4 L752.5 232.7 L750.0 233.0 L747.7 233.4 L745.5 233.8 L743.3 234.2 L741.2 234.6 L739.0 235.0" fill="none" stroke="#1f894a" stroke-width="0.85" opacity="0.95"/>
<path d="M861.1 139.0 L861.3 143.3 L861.4 147.7 L861.6 152.0 L861.7 156.1 L861.8 160.0 L861.8 163.6 L861.8 166.9 L861.8 170.0 L861.8 172.9 L861.8 175.8 L861.7 178.4 L861.7 180.8 L861.6 183.1 L861.5 185.3 L861.4 187.5 L861.2 189.6 L861.1 191.6 L860.9 193.5 L860.7 195.5 L860.4 197.4 L860.0 199.3 L859.7 201.2 L859.2 203.1 L858.7 204.9 L858.0 206.7 L857.2 208.5 L856.3 210.2 L855.3 211.9 L854.2 213.5 L852.9 215.0 L851.4 216.5 L849.7 217.9 L847.9 219.3 L845.9 220.5 L843.9 221.6 L841.7 222.5 L839.5 223.2 L837.2 223.9 L834.5 224.5 L831.6 225.0 L828.1 225.4 L824.2 225.8 L820.1 226.1 L815.9 226.4 L811.9 226.7 L808.1 227.2 L804.3 227.6 L800.5 228.1 L796.9 228.6 L793.4 229.1 L790.0 229.8 L786.9 230.5 L783.8 231.3 L780.8 232.0 L777.9 232.7 L775.0 233.2 L772.3 233.6 L769.6 234.0 L767.0 234.4 L764.2 234.8 L761.5 235.1 L758.6 235.5 L755.8 235.8 L753.1 236.2 L750.5 236.6 L748.1 237.1 L745.8 237.5 L743.6 238.0 L741.5 238.5 L739.2 239.0" fill="none" stroke="#1f894a" stroke-width="0.85" opacity="0.95"/>
<path d="M865.4 139.0 L865.5 143.3 L865.5 147.6 L865.6 151.9 L865.7 156.1 L865.7 160.0 L865.7 163.7 L865.7 167.1 L865.7 170.4 L865.7 173.5 L865.6 176.5 L865.6 179.3 L865.5 181.9 L865.5 184.3 L865.4 186.7 L865.3 189.0 L865.3 191.2 L865.3 193.4 L865.4 195.5 L865.3 197.5 L865.2 199.6 L865.1 201.7 L865.0 203.8 L864.8 205.8 L864.5 207.9 L864.1 209.8 L863.6 211.7 L863.0 213.5 L862.2 215.2 L861.3 216.9 L860.2 218.5 L859.0 220.0 L857.5 221.5 L855.9 222.8 L854.1 224.1 L852.0 225.2 L849.9 226.1 L847.7 226.8 L845.2 227.4 L842.5 228.0 L839.3 228.5 L835.5 228.8 L831.2 229.1 L826.7 229.3 L822.1 229.5 L817.7 229.8 L813.5 230.2 L809.3 230.6 L805.1 231.0 L801.1 231.5 L797.2 232.0 L793.6 232.7 L790.1 233.5 L786.7 234.3 L783.5 235.0 L780.2 235.7 L777.2 236.2 L774.2 236.7 L771.3 237.1 L768.4 237.6 L765.5 238.0 L762.5 238.4 L759.5 238.9 L756.6 239.3 L753.7 239.8 L751.0 240.2 L748.5 240.8 L746.2 241.3 L744.0 241.9 L741.8 242.4 L739.5 243.0" fill="none" stroke="#1f894a" stroke-width="0.85" opacity="0.95"/>
<path d="M869.6 139.0 L869.7 143.3 L869.7 147.6 L869.7 151.9 L869.7 156.0 L869.6 160.0 L869.6 163.8 L869.6 167.4 L869.5 170.8 L869.5 174.1 L869.5 177.2 L869.4 180.2 L869.4 182.9 L869.3 185.5 L869.3 188.0 L869.3 190.5 L869.4 192.9 L869.6 195.2 L869.8 197.4 L870.0 199.6 L870.1 201.8 L870.2 204.1 L870.3 206.3 L870.4 208.6 L870.4 210.8 L870.2 212.9 L869.9 214.9 L869.6 216.8 L869.1 218.6 L868.5 220.4 L867.6 222.0 L866.5 223.6 L865.3 225.0 L863.8 226.4 L862.2 227.6 L860.2 228.7 L858.1 229.6 L855.8 230.4 L853.3 231.0 L850.4 231.5 L847.0 231.9 L842.9 232.2 L838.3 232.4 L833.3 232.6 L828.3 232.7 L823.5 232.9 L818.9 233.2 L814.3 233.6 L809.7 233.9 L805.3 234.4 L801.1 234.9 L797.1 235.6 L793.3 236.4 L789.6 237.2 L786.1 238.0 L782.6 238.8 L779.3 239.3 L776.1 239.8 L772.9 240.3 L769.8 240.8 L766.8 241.2 L763.6 241.8 L760.4 242.3 L757.3 242.8 L754.3 243.3 L751.5 243.9 L748.9 244.5 L746.5 245.1 L744.3 245.7 L742.0 246.4 L739.8 247.0" fill="none" stroke="#1f894a" stroke-width="0.85" opacity="0.95"/>
<path d="M838.7 187.5 L837.3 188.7 L835.9 189.7 L834.3 190.7 L832.7 191.8 L830.9 192.9 L828.9 194.1 L826.8 195.4 L824.6 196.8 L822.4 198.1 L820.1 199.4 L817.6 200.7 L815.0 202.1 L812.4 203.4 L809.9 204.6 L807.5 205.7 L805.3 206.6 L803.3 207.4 L801.3 208.1 L799.3 208.8 L797.2 209.5 L795.1 210.2 L792.8 210.9 L790.6 211.6 L788.3 212.3 L786.2 213.0 L784.1 213.7 L782.0 214.4 L780.0 215.0 L778.0 215.7 L776.1 216.3 L774.3 216.9 L772.5 217.5 L770.8 218.1 L769.0 218.6 L767.3 219.1 L765.6 219.4 L763.9 219.7 L762.3 220.0 L760.5 220.1 L758.7 220.3 L756.7 220.4 L754.6 220.4 L752.5 220.4 L750.4 220.4 L748.3 220.5 L746.2 220.6 L744.2 220.7 L742.2 220.9 L740.2 221.1 L738.1 221.2" fill="none" stroke="#1f894a" stroke-width="0.6" opacity="0.6"/>
<path d="M843.6 189.7 L842.4 191.0 L841.2 192.3 L839.9 193.5 L838.5 194.7 L837.0 196.0 L835.3 197.4 L833.5 198.8 L831.5 200.2 L829.5 201.6 L827.4 202.9 L825.2 204.3 L822.8 205.6 L820.4 206.9 L818.0 208.2 L815.7 209.2 L813.5 210.2 L811.4 211.0 L809.4 211.7 L807.2 212.3 L805.0 213.0 L802.5 213.6 L799.9 214.3 L797.2 214.9 L794.5 215.5 L792.0 216.1 L789.5 216.7 L787.0 217.3 L784.6 218.0 L782.3 218.6 L780.0 219.2 L777.8 219.8 L775.7 220.4 L773.7 221.1 L771.7 221.6 L769.7 222.1 L767.7 222.5 L765.8 222.8 L763.9 223.1 L762.0 223.3 L759.9 223.5 L757.8 223.7 L755.5 223.8 L753.3 223.9 L751.0 224.0 L748.8 224.1 L746.6 224.3 L744.6 224.5 L742.5 224.7 L740.5 225.0 L738.4 225.2" fill="none" stroke="#1f894a" stroke-width="0.6" opacity="0.6"/>
<path d="M848.4 191.9 L847.5 193.4 L846.6 194.9 L845.5 196.3 L844.3 197.7 L843.1 199.1 L841.6 200.6 L840.1 202.1 L838.4 203.6 L836.7 205.0 L834.8 206.4 L832.8 207.8 L830.6 209.2 L828.4 210.5 L826.1 211.7 L823.8 212.8 L821.7 213.7 L819.6 214.5 L817.4 215.2 L815.1 215.8 L812.7 216.5 L809.9 217.1 L806.9 217.6 L803.8 218.1 L800.7 218.6 L797.8 219.2 L794.9 219.7 L792.0 220.3 L789.2 220.9 L786.5 221.5 L783.9 222.1 L781.4 222.7 L779.0 223.4 L776.6 224.0 L774.3 224.6 L772.1 225.2 L769.8 225.6 L767.7 226.0 L765.6 226.3 L763.4 226.5 L761.2 226.8 L758.9 227.0 L756.4 227.2 L754.0 227.4 L751.6 227.5 L749.3 227.7 L747.1 228.0 L744.9 228.3 L742.8 228.6 L740.7 228.9 L738.6 229.2" fill="none" stroke="#1f894a" stroke-width="0.6" opacity="0.6"/>
<path d="M853.3 194.2 L852.6 195.8 L851.9 197.4 L851.1 199.0 L850.2 200.6 L849.2 202.2 L848.0 203.8 L846.7 205.4 L845.3 206.9 L843.8 208.5 L842.2 209.9 L840.4 211.3 L838.4 212.7 L836.3 214.1 L834.2 215.3 L832.0 216.4 L829.9 217.3 L827.7 218.1 L825.5 218.7 L823.1 219.4 L820.4 219.9 L817.3 220.5 L814.0 220.9 L810.5 221.4 L806.9 221.8 L803.5 222.3 L800.3 222.8 L797.0 223.3 L793.8 223.8 L790.7 224.4 L787.8 225.0 L784.9 225.6 L782.2 226.3 L779.5 227.0 L777.0 227.7 L774.4 228.2 L772.0 228.7 L769.6 229.1 L767.2 229.4 L764.9 229.7 L762.4 230.0 L759.9 230.3 L757.3 230.6 L754.7 230.8 L752.2 231.1 L749.8 231.4 L747.5 231.7 L745.3 232.1 L743.2 232.4 L741.0 232.8 L738.9 233.2" fill="none" stroke="#1f894a" stroke-width="0.6" opacity="0.6"/>
<path d="M858.2 196.4 L857.7 198.2 L857.3 200.0 L856.7 201.8 L856.0 203.6 L855.3 205.3 L854.4 207.0 L853.4 208.7 L852.2 210.3 L851.0 211.9 L849.6 213.4 L848.0 214.9 L846.2 216.3 L844.3 217.6 L842.3 218.9 L840.2 220.0 L838.1 220.9 L835.9 221.6 L833.5 222.3 L831.0 222.9 L828.1 223.4 L824.7 223.9 L821.0 224.3 L817.1 224.6 L813.1 224.9 L809.3 225.3 L805.7 225.8 L802.0 226.3 L798.5 226.7 L795.0 227.3 L791.6 227.8 L788.5 228.5 L785.4 229.2 L782.5 230.0 L779.6 230.7 L776.8 231.3 L774.1 231.8 L771.5 232.2 L768.9 232.6 L766.3 232.9 L763.7 233.3 L761.0 233.6 L758.2 234.0 L755.5 234.3 L752.8 234.6 L750.3 235.0 L747.9 235.4 L745.7 235.8 L743.5 236.3 L741.3 236.8 L739.1 237.2" fill="none" stroke="#1f894a" stroke-width="0.6" opacity="0.6"/>
<path d="M863.1 198.6 L862.8 200.6 L862.6 202.6 L862.3 204.6 L861.9 206.5 L861.4 208.4 L860.7 210.2 L860.0 212.0 L859.1 213.7 L858.1 215.4 L856.9 216.9 L855.5 218.4 L854.0 219.9 L852.3 221.2 L850.4 222.5 L848.4 223.5 L846.2 224.4 L844.0 225.2 L841.6 225.8 L838.9 226.4 L835.8 226.9 L832.2 227.3 L828.1 227.6 L823.7 227.8 L819.3 228.1 L815.1 228.4 L811.1 228.8 L807.0 229.2 L803.1 229.7 L799.2 230.2 L795.5 230.7 L792.0 231.4 L788.6 232.1 L785.4 232.9 L782.3 233.7 L779.2 234.3 L776.2 234.9 L773.3 235.3 L770.5 235.7 L767.7 236.1 L764.9 236.5 L762.1 237.0 L759.1 237.4 L756.2 237.8 L753.4 238.2 L750.8 238.6 L748.3 239.1 L746.0 239.6 L743.8 240.1 L741.6 240.7 L739.4 241.2" fill="none" stroke="#1f894a" stroke-width="0.6" opacity="0.6"/>
<path d="M867.9 200.8 L867.9 203.0 L867.9 205.2 L867.9 207.4 L867.7 209.5 L867.5 211.5 L867.1 213.4 L866.6 215.3 L866.0 217.1 L865.3 218.8 L864.3 220.4 L863.1 222.0 L861.8 223.4 L860.3 224.8 L858.5 226.0 L856.5 227.1 L854.4 228.0 L852.2 228.8 L849.7 229.4 L846.8 229.9 L843.5 230.4 L839.6 230.7 L835.1 230.9 L830.3 231.1 L825.5 231.3 L820.9 231.5 L816.5 231.9 L812.0 232.2 L807.7 232.6 L803.4 233.1 L799.4 233.6 L795.5 234.3 L791.9 235.1 L788.3 235.9 L784.9 236.7 L781.6 237.4 L778.3 237.9 L775.2 238.4 L772.2 238.9 L769.2 239.3 L766.2 239.8 L763.1 240.3 L760.0 240.7 L757.0 241.2 L754.0 241.7 L751.3 242.2 L748.7 242.8 L746.4 243.4 L744.1 244.0 L741.9 244.6 L739.6 245.2" fill="none" stroke="#1f894a" stroke-width="0.6" opacity="0.6"/>
<path d="M872.8 203.0 L873.0 205.4 L873.3 207.8 L873.5 210.1 L873.6 212.4 L873.6 214.6 L873.4 216.7 L873.2 218.6 L872.9 220.5 L872.4 222.3 L871.7 223.9 L870.7 225.5 L869.6 227.0 L868.2 228.4 L866.6 229.6 L864.7 230.7 L862.6 231.6 L860.3 232.3 L857.7 232.9 L854.7 233.4 L851.2 233.8 L847.0 234.1 L842.2 234.3 L837.0 234.3 L831.7 234.4 L826.7 234.6 L821.9 234.9 L817.0 235.2 L812.3 235.5 L807.7 236.0 L803.3 236.5 L799.1 237.2 L795.1 238.0 L791.3 238.9 L787.5 239.7 L783.9 240.4 L780.4 241.0 L777.1 241.6 L773.8 242.0 L770.6 242.5 L767.4 243.0 L764.2 243.6 L760.9 244.1 L757.7 244.7 L754.7 245.3 L751.8 245.9 L749.2 246.5 L746.7 247.2 L744.5 247.8 L742.2 248.5 L739.9 249.2" fill="none" stroke="#1f894a" stroke-width="0.6" opacity="0.6"/>
<path d="M873.9 139.0 L873.8 143.2 L873.8 147.5 L873.7 151.8 L873.7 156.0 L873.6 160.0 L873.5 163.9 L873.5 167.6 L873.4 171.2 L873.3 174.7 L873.3 178.0 L873.3 181.1 L873.2 184.0 L873.2 186.7 L873.2 189.4 L873.3 192.0 L873.5 194.5 L873.9 196.9 L874.3 199.3 L874.7 201.6 L875.0 204.0 L875.3 206.4 L875.7 208.9 L876.0 211.4 L876.2 213.8 L876.3 216.0 L876.3 218.1 L876.2 220.1 L876.0 222.0 L875.6 223.8 L875.0 225.5 L874.1 227.1 L873.1 228.6 L871.8 230.0 L870.3 231.2 L868.4 232.3 L866.3 233.2 L864.0 233.9 L861.4 234.5 L858.3 235.0 L854.7 235.4 L850.4 235.7 L845.3 235.8 L839.9 235.8 L834.5 235.8 L829.3 236.0 L824.3 236.2 L819.3 236.5 L814.4 236.9 L809.6 237.3 L805.0 237.8 L800.7 238.5 L796.5 239.3 L792.6 240.2 L788.7 241.0 L785.0 241.8 L781.4 242.4 L777.9 243.0 L774.6 243.5 L771.3 244.0 L768.0 244.5 L764.7 245.1 L761.3 245.7 L758.1 246.2 L754.9 246.9 L752.0 247.5 L749.3 248.2 L746.9 248.9 L744.6 249.6 L742.3 250.3 L740.0 251.0" fill="none" stroke="#176f2c" stroke-width="0.9" opacity="0.8"/>
<path d="M878.4 139.0 L878.3 143.2 L878.2 147.5 L878.0 151.8 L877.9 156.0 L877.8 160.0 L877.7 163.9 L877.6 167.6 L877.5 171.2 L877.5 174.7 L877.4 178.0 L877.3 181.1 L877.2 184.0 L877.2 186.7 L877.2 189.4 L877.3 192.0 L877.5 194.5 L877.8 196.9 L878.2 199.3 L878.6 201.6 L878.9 204.0 L879.2 206.4 L879.6 208.9 L879.9 211.3 L880.2 213.7 L880.3 216.0 L880.4 218.2 L880.4 220.2 L880.3 222.2 L880.1 224.1 L879.5 226.0 L878.8 227.7 L877.8 229.5 L876.7 231.1 L875.2 232.6 L873.4 233.9 L871.3 235.0 L869.0 235.9 L866.3 236.7 L863.2 237.3 L859.4 237.8 L854.8 238.1 L849.5 238.2 L843.7 238.1 L837.9 238.1 L832.3 238.3 L827.0 238.5 L821.7 238.9 L816.4 239.3 L811.4 239.8 L806.5 240.3 L802.0 241.0 L797.8 241.8 L793.7 242.6 L789.7 243.4 L785.9 244.0 L782.3 244.5 L778.8 244.8 L775.5 245.0 L772.2 245.3 L768.9 245.6 L765.6 246.1 L762.3 246.5 L759.1 247.0 L755.9 247.5 L752.9 248.1 L750.1 248.8 L747.5 249.5 L745.0 250.3 L742.5 251.1 L740.0 251.9" fill="none" stroke="#176f2c" stroke-width="0.9" opacity="0.8"/>
<path d="M882.9 139.0 L882.7 143.2 L882.5 147.5 L882.4 151.8 L882.2 156.0 L882.0 160.0 L881.9 163.9 L881.8 167.6 L881.7 171.2 L881.6 174.7 L881.5 178.0 L881.4 181.1 L881.3 184.0 L881.2 186.7 L881.2 189.4 L881.3 192.0 L881.5 194.5 L881.8 196.9 L882.1 199.3 L882.5 201.6 L882.8 204.0 L883.1 206.4 L883.5 208.9 L883.9 211.3 L884.2 213.7 L884.4 216.0 L884.5 218.2 L884.6 220.4 L884.7 222.4 L884.5 224.5 L884.1 226.4 L883.4 228.4 L882.6 230.3 L881.5 232.2 L880.1 233.9 L878.4 235.4 L876.3 236.7 L874.0 237.9 L871.3 238.8 L868.1 239.6 L864.2 240.2 L859.3 240.6 L853.6 240.6 L847.4 240.5 L841.2 240.4 L835.3 240.5 L829.7 240.8 L824.0 241.3 L818.5 241.8 L813.1 242.3 L808.1 242.9 L803.4 243.5 L799.0 244.3 L794.8 245.1 L790.7 245.8 L786.9 246.3 L783.2 246.5 L779.7 246.6 L776.4 246.6 L773.1 246.6 L769.9 246.8 L766.6 247.1 L763.3 247.4 L760.1 247.7 L756.9 248.2 L753.9 248.7 L751.0 249.4 L748.2 250.2 L745.4 251.1 L742.7 252.0 L740.0 252.9" fill="none" stroke="#176f2c" stroke-width="0.9" opacity="0.8"/>
<rect x="830" y="138" width="70" height="7.7" fill="#12925c" opacity="0.82"/>
<rect x="830" y="151.6" width="70" height="8.9" fill="#12925c" opacity="0.82"/>
<rect x="873.9" y="138" width="20" height="7.7" fill="#0e6e2c" opacity="0.5"/>
<rect x="873.9" y="151.6" width="20" height="8.9" fill="#0e6e2c" opacity="0.5"/>
<path d="M764.6 217.5 Q766.5 229 770 241.5" fill="none" stroke="#177334" stroke-width="1.1"/>
<path d="M770 238 Q770.5 243 774.5 244.5 L766.5 244 Q769 242 770 238Z" fill="#1c8238"/>
<path d="M861.5 210.6 Q868.8 210.2 871.8 201.6 Q868.6 207.2 861.5 210.6Z" fill="#1d7c3c" stroke="#1d7c3c" stroke-width="0.9" stroke-linejoin="round"/>
</g>
<path d="M839.9 139.0 L840.3 142.6 L840.7 146.3 L841.0 150.1 L841.4 153.7 L841.7 157.0 L842.0 160.0 L842.2 162.6 L842.4 164.8 L842.5 166.8 L842.6 168.6 L842.6 170.3 L842.6 172.0 L842.6 173.6 L842.5 175.0 L842.4 176.4 L842.3 177.6 L842.0 178.8 L841.5 180.0 L840.9 181.2 L840.1 182.3 L839.2 183.3 L838.2 184.4 L837.1 185.4 L836.0 186.3 L834.8 187.2 L833.5 188.0 L832.1 188.8 L830.7 189.5 L829.1 190.3 L827.5 191.2 L825.8 192.2 L823.9 193.2 L822.0 194.3 L820.1 195.4 L818.0 196.4 L816.0 197.5 L813.9 198.6 L811.7 199.7 L809.4 200.8 L807.2 201.8 L805.0 202.8 L803.0 203.7 L801.2 204.5 L799.4 205.2 L797.8 205.8 L796.2 206.4 L794.6 207.0 L793.0 207.6 L791.3 208.2 L789.6 208.9 L787.9 209.5 L786.3 210.1 L784.6 210.7 L783.0 211.3 L781.4 211.9 L779.9 212.5 L778.4 213.1 L777.0 213.6 L775.5 214.2 L774.0 214.7 L772.5 215.2 L770.9 215.8 L769.4 216.3 L767.9 216.8 L766.4 217.2 L765.0 217.6 L763.7 217.8 L762.5 217.9 L761.3 218.0 L760.1 218.1 L759.1 218.1 L758.0 218.3 L757.0 218.5 L756.0 218.8 L755.0 219.1 L754.1 219.5 L753.3 219.9 L752.5 220.3 L751.7 220.8 L751.0 221.4 L750.4 222.0 L749.8 222.6 L749.2 223.3 L748.8 224.0 L748.4 224.7 L748.2 225.4 L747.9 226.2 L747.8 227.0 L747.7 227.7 L747.7 228.5 L747.8 229.3 L747.9 230.0 L748.1 230.8 L748.4 231.5 L748.7 232.3 L749.0 233.0 L749.4 233.7 L749.8 234.4 L750.3 235.0 L750.8 235.7 L751.4 236.3 L752.0 237.0 L752.7 237.7 L753.5 238.4 L754.3 239.1 L755.2 239.8 L756.1 240.5 L757.0 241.2 L757.9 241.8 L758.9 242.5 L759.8 243.0 L760.8 243.6 L761.9 244.2 L763.0 244.8 L764.1 245.4 L765.2 246.0 L766.3 246.7 L767.6 247.3 L769.1 247.8 L771.0 248.2 L773.3 248.5 L775.8 248.8 L778.6 249.0 L781.6 249.1 L784.8 249.1 L788.0 249.0 L791.3 248.7 L794.7 248.3 L798.2 247.7 L802.0 247.1 L805.9 246.5 L810.0 246.0 L814.4 245.5 L819.1 245.0 L823.9 244.5 L828.9 244.0 L834.0 243.6 L839.0 243.3 L844.2 243.2 L849.8 243.3 L855.4 243.5 L860.8 243.6 L865.8 243.5 L870.0 243.2 L873.5 242.6 L876.4 241.8 L878.9 240.9 L881.0 239.8 L882.8 238.6 L884.5 237.3 L886.0 235.8 L887.1 234.2 L888.0 232.5 L888.6 230.6 L889.2 228.8 L889.6 227.0 L889.9 225.2 L890.0 223.4 L889.9 221.6 L889.7 219.8 L889.5 217.9 L889.3 216.0 L889.1 214.1 L888.8 212.1 L888.5 210.1 L888.2 208.0 L887.9 206.0 L887.6 204.0 L887.3 202.0 L887.0 200.1 L886.8 198.1 L886.5 196.1 L886.3 194.1 L886.2 192.0 L886.1 189.8 L886.2 187.6 L886.2 185.4 L886.3 183.0 L886.4 180.6 L886.5 178.0 L886.6 175.3 L886.7 172.4 L886.8 169.4 L886.9 166.4 L887.0 163.2 L887.2 160.0 L887.4 156.7 L887.6 153.2 L887.8 149.7 L888.0 146.1 L888.2 142.5 L888.4 139.0 Z" fill="none" stroke="#2a9447" stroke-width="0.5"/>
<g transform="translate(741.3 251.5) rotate(-24.6)">
<polygon points="0,0 -9.0,-41.5 7.7,-41.5" fill="#f4c39b"/>
<polygon points="0,0 -2.88,-13.4 2.75,-13.4" fill="#3b3b3d"/>
<rect x="-8.8" y="-124.6" width="16.3" height="83.1" fill="#5a519b"/>
<path d="M-9.3 -124.6 L-2.8 -124.6 L-2.8 -36.9 Q-6.050000000000001 -42.9 -9.3 -36.9 Z" fill="#4261a9"/>
<path d="M-3.0 -124.6 L2.7 -124.6 L2.7 -36.9 Q-0.1499999999999999 -42.9 -3.0 -36.9 Z" fill="#5a519b"/>
<path d="M2.5 -124.6 L8.0 -124.6 L8.0 -36.9 Q5.25 -42.9 2.5 -36.9 Z" fill="#493d93"/>
<rect x="-10.0" y="-138.0" width="18.7" height="13.400000000000006" fill="#969aa2"/>
<rect x="-10.200000000000001" y="-136.8" width="19.1" height="1.7" rx="0.8" fill="#6b7079"/>
<rect x="-10.200000000000001" y="-133.0" width="19.1" height="1.7" rx="0.8" fill="#6b7079"/>
<rect x="-10.200000000000001" y="-129.2" width="19.1" height="1.7" rx="0.8" fill="#6b7079"/>
<rect x="-10.0" y="-126.4" width="18.7" height="1.8" fill="#a6aab0"/>
<path d="M-9.100000000000001 -138 L-9.100000000000001 -146.3 Q-9.100000000000001 -149.6 -5.9 -149.8 L4.6 -149.8 Q7.8 -149.6 7.8 -146.3 L7.8 -138 Z" fill="#f4dfb1"/>
</g>
</svg>
<svg width="260" height="150" viewBox="740 860 260 150" style="left:740px;top:860px;">
<path d="M768.5 917.0 L768.9 914.1 L769.6 910.9 L770.5 907.7 L771.6 904.5 L772.9 901.8 L774.3 899.4 L775.9 897.3 L777.7 895.4 L779.6 893.7 L781.5 892.1 L783.5 890.6 L785.6 889.4 L787.8 888.2 L790.0 887.2 L792.2 886.3 L794.3 885.5 L796.4 884.9 L798.5 884.3 L800.7 883.9 L803.0 883.5 L805.4 883.2 L808.0 882.9 L810.6 882.7 L813.3 882.5 L815.9 882.5 L818.4 882.5 L820.8 882.6 L823.3 882.8 L825.9 883.1 L828.7 883.6 L831.9 884.2 L835.3 885.0 L838.8 885.9 L842.4 886.9 L845.9 887.8 L849.3 888.8 L852.8 889.8 L856.2 890.8 L859.7 891.8 L863.1 892.8 L866.6 893.8 L870.2 894.8 L873.7 895.8 L877.1 896.8 L880.3 897.5 L883.2 898.1 L885.8 898.5 L888.3 898.8 L890.7 899.1 L893.2 899.3 L895.7 899.5 L898.1 899.5 L900.6 899.6 L903.2 899.5 L906.0 899.3 L909.2 899.0 L912.7 898.5 L916.3 898.0 L919.9 897.4 L923.3 897.0 L926.5 896.7 L929.7 896.3 L932.7 896.1 L935.6 895.9 L938.3 895.8 L940.7 895.8 L943.0 896.0 L945.1 896.2 L947.1 896.6 L949.0 897.0 L950.9 897.5 L952.7 898.2 L954.4 898.9 L956.0 899.7 L957.6 900.7 L959.1 901.8 L960.5 902.9 L961.8 904.2 L963.0 905.6 L964.1 907.2 L965.2 908.9 L966.2 910.6 L967.1 912.5 L967.9 914.6 L968.3 917.0 L968.4 919.9 L968.2 923.2 L967.8 926.7 L967.3 930.0 L966.7 932.9 L966.0 935.3 L965.2 937.4 L964.2 939.3 L963.2 941.0 L961.9 942.6 L960.5 944.1 L958.8 945.6 L957.1 946.8 L955.2 948.0 L953.3 949.0 L951.5 949.9 L949.7 950.6 L947.8 951.2 L945.5 951.7 L942.6 952.2 L939.0 952.7 L934.9 953.0 L930.4 953.4 L925.7 953.7 L921.1 953.9 L916.4 954.1 L911.6 954.1 L906.7 954.2 L902.0 954.2 L897.5 954.4 L893.4 954.7 L889.6 955.0 L885.9 955.3 L882.1 955.7 L878.2 956.1 L874.0 956.5 L869.8 957.0 L865.4 957.4 L861.0 957.8 L856.7 958.2 L852.3 958.5 L847.8 958.9 L843.3 959.1 L839.1 959.3 L835.2 959.4 L831.8 959.4 L828.8 959.2 L826.0 959.0 L823.2 958.6 L820.2 958.2 L816.9 957.6 L813.4 957.0 L809.8 956.2 L806.3 955.4 L803.0 954.4 L799.8 953.3 L796.6 952.1 L793.5 950.8 L790.6 949.4 L787.9 947.9 L785.4 946.3 L783.1 944.7 L781.0 943.0 L779.0 941.2 L777.2 939.3 L775.6 937.3 L774.1 935.2 L772.8 933.0 L771.7 930.8 L770.7 928.6 L769.9 926.4 L769.2 924.2 L768.7 921.9 L768.4 919.6 Z" fill="#fdc80d"/>
<g fill="#fff">
<path d="M811.5 898.3 H820.1 Q822.6 898.3 823.6 901 L835.7 936.2 Q836.9 940.3 833 940.3 H820.1 V934.5 H811.5 V940.3 H799 Q795 940.3 796.3 936.2 L808.2 901 Q809.1 898.3 811.5 898.3 Z"/>
<path d="M840 898.2 Q840 896.2 842 896.2 H848.2 Q850.2 896.2 850.2 898.2 V930.6 H852.1 Q854.1 930.6 854.1 932.6 V939.5 Q854.1 941.5 852.1 941.5 H846 Q840 941.5 840 935.5 Z"/>
<ellipse cx="873.4" cy="926" rx="16.7" ry="15.9"/>
<path d="M893.3 912.6 Q893.3 910.6 895.3 910.6 H903 Q907 910.6 909 912.8 Q912 910.6 918 910.6 Q925 910.6 928.5 913.2 Q932 910.6 937 910.6 Q946.2 910.6 946.2 920 V938 Q946.2 940 944.2 940 H936 Q934 940 934 938 V924 Q934 920.4 930.5 920.4 Q927.1 920.4 927.1 924 V938 Q927.1 940 925.1 940 H916.9 Q914.9 940 914.9 938 V924 Q914.9 920.4 911.2 920.4 Q907.6 920.4 907.6 924 V938 Q907.6 940 905.6 940 H897.9 Q895.9 940 895.9 938 V921 H895 Q893.3 921 893.3 919 Z"/>
</g>
<g fill="#fdc80d">
<path d="M810.7 929.8 L809.5 919 Q809.5 908.3 815.8 908.3 Q822 908.3 822 919 L820.9 929.8 Z"/>
<path d="M868.1 924.3 V922.5 Q868.1 918 873.7 918 Q879.3 918 879.3 922.5 V924.3 Z"/>
<path d="M868.5 929.4 L891 929.4 L891 930.7 Q880 933.6 874.4 933 Q869.5 932.4 868.5 929.4 Z"/>
</g>
</svg>

<div class="t" style="left:780.34px;top:966.12px;font-size:26.5px;line-height:32px;color:#4a4a4c;font-weight:700;letter-spacing:1.200px;-webkit-text-stroke:1.8px #4a4a4c;transform:scaleX(1.1584);transform-origin:0 0;">CALZADOS</div>
</body></html>
